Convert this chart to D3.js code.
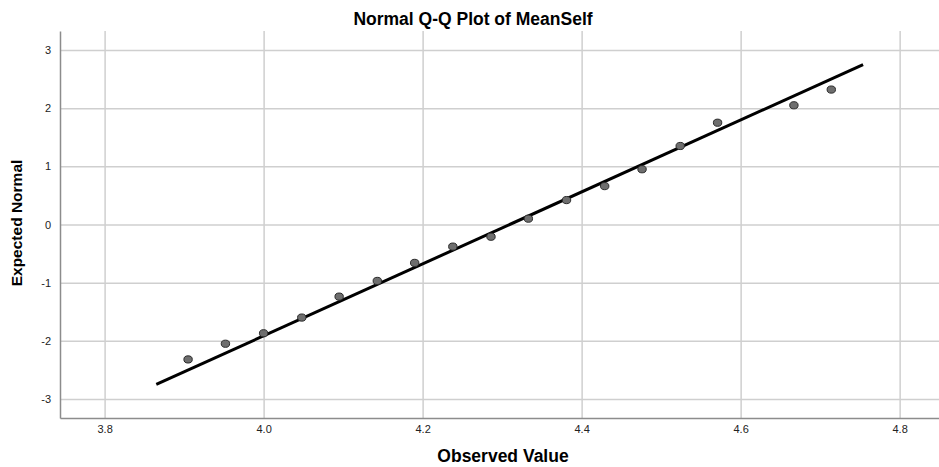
<!DOCTYPE html>
<html>
<head>
<meta charset="utf-8">
<script src="https://cdn.jsdelivr.net/npm/d3@7"></script>
<style>
  body { margin: 0; background: #fff; }
  text { font-family: "Liberation Sans", Arial, sans-serif; }
</style>
</head>
<body>
<div id="chart"></div>
<script>
// observed values (MeanSelf) and their expected normal scores
var observed = [3.905, 3.952, 4.000, 4.048, 4.095, 4.143, 4.190, 4.238, 4.286,
                4.333, 4.381, 4.429, 4.476, 4.524, 4.571, 4.667, 4.714];
var expected = [-2.32, -2.05, -1.87, -1.60, -1.24, -0.97, -0.66, -0.38, -0.21,
                0.10, 0.42, 0.66, 0.95, 1.35, 1.75, 2.05, 2.32];

// reference line end points
var lineX = [3.865, 4.754];
var lineY = [-2.75, 2.75];

var xTicks = [3.8, 4.0, 4.2, 4.4, 4.6, 4.8];
var yTicks = [-3, -2, -1, 0, 1, 2, 3];

var margin = {top: 31, right: 0, bottom: 49, left: 60},
    width = 939 - margin.left - margin.right,
    height = 467 - margin.top - margin.bottom;

var x = d3.scaleLinear().domain([3.7439, 4.8495]).range([0, width]);
var y = d3.scaleLinear().domain([-3.327, 3.327]).range([height, 0]);

var svg = d3.select("#chart").append("svg")
    .attr("width", 939)
    .attr("height", 467)
  .append("g")
    .attr("transform", "translate(" + margin.left + "," + margin.top + ")");

// grid lines
svg.append("g")
    .call(d3.axisBottom(x).tickValues(xTicks).tickSize(height).tickFormat(""))
    .call(g => g.select(".domain").remove())
    .call(g => g.selectAll(".tick line")
        .attr("stroke", "#cfcfcf").attr("stroke-width", 1.5));

svg.append("g")
    .call(d3.axisLeft(y).tickValues(yTicks).tickSize(-width).tickFormat(""))
    .call(g => g.select(".domain").remove())
    .call(g => g.selectAll(".tick line")
        .attr("stroke", "#cfcfcf").attr("stroke-width", 1.5));

// x axis
var xAxis = svg.append("g")
    .attr("transform", "translate(0," + height + ")")
    .call(d3.axisBottom(x).tickValues(xTicks).tickSize(0).tickPadding(7)
        .tickFormat(d3.format(".1f")));
xAxis.select(".domain").attr("stroke", "#8c8c8c").attr("stroke-width", 1.5);
xAxis.selectAll("text").attr("font-size", "11px").attr("fill", "#222");

// y axis
var yAxis = svg.append("g")
    .call(d3.axisLeft(y).tickValues(yTicks).tickSize(0).tickPadding(9)
        .tickFormat(d3.format("d")));
yAxis.select(".domain").attr("stroke", "#8c8c8c").attr("stroke-width", 1.5);
yAxis.selectAll("text").attr("font-size", "11px").attr("fill", "#222")
    .text(d => d < 0 ? "-" + Math.abs(d) : d);

// reference line
var line = d3.line()
    .x(d => x(d[0]))
    .y(d => y(d[1]));

svg.append("path")
    .datum(d3.zip(lineX, lineY))
    .attr("fill", "none")
    .attr("stroke", "#000")
    .attr("stroke-width", 3)
    .attr("d", line);

// points
svg.selectAll(".pt")
    .data(d3.zip(observed, expected))
  .enter().append("ellipse")
    .attr("class", "pt")
    .attr("cx", d => x(d[0]))
    .attr("cy", d => y(d[1]))
    .attr("rx", 4.2)
    .attr("ry", 3.6)
    .attr("fill", "#6e6e6e")
    .attr("stroke", "#2a2a2a")
    .attr("stroke-width", 1);

// titles
var root = d3.select("svg");
root.append("text")
    .attr("x", 473).attr("y", 25)
    .attr("text-anchor", "middle")
    .attr("font-size", "17.5px").attr("font-weight", "bold")
    .text("Normal Q-Q Plot of MeanSelf");

root.append("text")
    .attr("x", 503).attr("y", 462)
    .attr("text-anchor", "middle")
    .attr("font-size", "17.5px").attr("font-weight", "bold")
    .text("Observed Value");

root.append("text")
    .attr("transform", "translate(22,223) rotate(-90)")
    .attr("text-anchor", "middle")
    .attr("font-size", "15.5px").attr("font-weight", "bold")
    .text("Expected Normal");
</script>
</body>
</html>
